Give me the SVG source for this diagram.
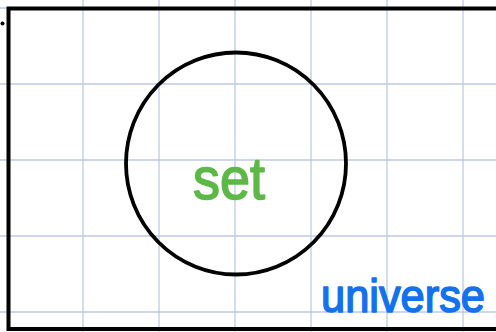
<svg xmlns="http://www.w3.org/2000/svg" width="496" height="332" viewBox="0 0 496 332">
<style>
.grid{stroke:#bccbe4;stroke-width:1.3;fill:none}
.shape{fill:none;stroke:#000;}
.hand{font-family:"Liberation Sans","DejaVu Sans",sans-serif;stroke-width:1.6;stroke-linejoin:round}
</style>
<rect width="496" height="332" fill="#fff"/>
<g id="grid" class="grid">
<path d="M83 0V332M159 0V332M235 0V332M311 0V332M387 0V332M463 0V332"/>
<path d="M0 8H496M0 84H496M0 160H496M0 236H496M0 312H496"/>
</g>
<g id="universe">
<rect class="shape" x="8.5" y="8.5" width="500" height="320.5" stroke-width="4"/>
<circle cx="2.5" cy="23.5" r="2" fill="#000"/>
<text class="hand" x="321" y="312" font-size="46" fill="#1471ee" stroke="#1471ee" textLength="164" lengthAdjust="spacingAndGlyphs">universe</text>
</g>
<g id="set">
<ellipse class="shape" cx="236" cy="163.5" rx="110" ry="111" stroke-width="3.8"/>
<text class="hand" x="193" y="199" font-size="60" fill="#5cb847" stroke="#5cb847" textLength="72" lengthAdjust="spacingAndGlyphs">set</text>
</g>
<g id="connectors"/>
</svg>
